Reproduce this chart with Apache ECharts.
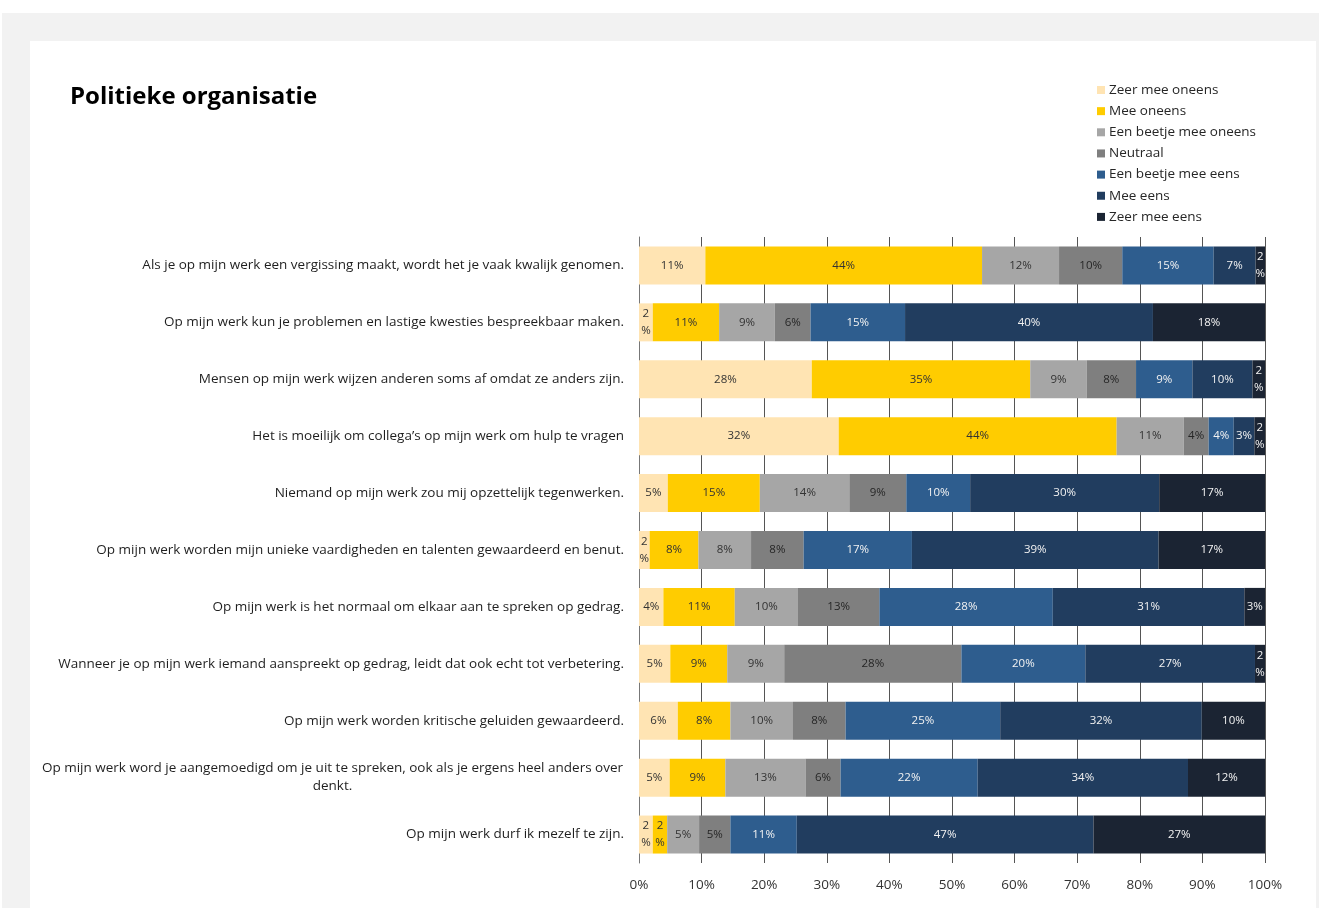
<!DOCTYPE html>
<html>
<head>
<meta charset="utf-8">
<script src="https://cdn.jsdelivr.net/npm/echarts@6/dist/echarts.min.js"></script>
<style>
  html, body { margin:0; padding:0; background:#ffffff; width:1319px; height:908px; overflow:hidden; }
  #outer { position:absolute; left:2px; top:13px; width:1317px; height:895px; background:#f2f2f2; }
  #card { position:absolute; left:30px; top:41px; width:1286px; height:867px; background:#ffffff; }
  #chart { position:absolute; left:0; top:0; width:1319px; height:908px; }
</style>
</head>
<body>
<div id="outer"></div>
<div id="card"></div>
<div id="chart"></div>
<script>
const title = 'Politieke organisatie';
const categories = [
  'Als je op mijn werk een vergissing maakt, wordt het je vaak kwalijk genomen.',
  'Op mijn werk kun je problemen en lastige kwesties bespreekbaar maken.',
  'Mensen op mijn werk wijzen anderen soms af omdat ze anders zijn.',
  'Het is moeilijk om collega’s op mijn werk om hulp te vragen',
  'Niemand op mijn werk zou mij opzettelijk tegenwerken.',
  'Op mijn werk worden mijn unieke vaardigheden en talenten gewaardeerd en benut.',
  'Op mijn werk is het normaal om elkaar aan te spreken op gedrag.',
  'Wanneer je op mijn werk iemand aanspreekt op gedrag, leidt dat ook echt tot verbetering.',
  'Op mijn werk worden kritische geluiden gewaardeerd.',
  'Op mijn werk word je aangemoedigd om je uit te spreken, ook als je ergens heel anders over denkt.',
  'Op mijn werk durf ik mezelf te zijn.'
];
const seriesNames = ['Zeer mee oneens','Mee oneens','Een beetje mee oneens','Neutraal','Een beetje mee eens','Mee eens','Zeer mee eens'];
const zeerMeeOneens     = [10.6, 2.2, 27.6, 31.9, 4.6, 1.7, 3.9, 5.0, 6.2, 4.9, 2.2];
const meeOneens         = [44.2, 10.6, 34.9, 44.4, 14.7, 7.8, 11.4, 9.1, 8.4, 8.9, 2.3];
const beetjeMeeOneens   = [12.3, 8.9, 9.0, 10.7, 14.3, 8.4, 10.1, 9.1, 10.0, 12.8, 5.1];
const neutraal          = [10.1, 5.7, 7.9, 4.0, 9.1, 8.4, 13.0, 28.3, 8.4, 5.6, 5.0];
const beetjeMeeEens     = [14.6, 15.1, 9.0, 4.0, 10.2, 17.3, 27.7, 19.8, 24.7, 21.9, 10.6];
const meeEens           = [6.7, 39.6, 9.6, 3.3, 30.2, 39.4, 30.6, 27.1, 32.2, 33.6, 47.4];
const zeerMeeEens       = [1.5, 17.9, 2.0, 1.7, 16.9, 17.0, 3.3, 1.6, 10.1, 12.3, 27.4];
const xTickLabels = ['0%','10%','20%','30%','40%','50%','60%','70%','80%','90%','100%'];

const seriesData = [zeerMeeOneens, meeOneens, beetjeMeeOneens, neutraal, beetjeMeeEens, meeEens, zeerMeeEens];
const colors = ['#FFE4B3','#FFCC00','#A6A6A6','#7F7F7F','#2E5D8E','#213D5F','#1B2433'];
const labelColors = ['#333333','#333333','#333333','#262626','#f2f2f2','#f2f2f2','#f2f2f2'];
const FONT = '"Open Sans", sans-serif';

function wrapLabel(s, maxChars) {
  if (s.length <= maxChars) return s;
  const words = s.split(' ');
  const lines = [];
  let cur = '';
  for (const w of words) {
    if ((cur + ' ' + w).trim().length > maxChars) { lines.push(cur); cur = w; }
    else cur = (cur ? cur + ' ' : '') + w;
  }
  if (cur) lines.push(cur);
  return lines.map(l => '{c|' + l + '}').join('\n');
}

const chart = echarts.init(document.getElementById('chart'), null, {renderer:'canvas'});
chart.setOption({
  backgroundColor: 'transparent',
  animation: false,
  textStyle: { fontFamily: FONT },
  title: {
    text: title, left: 70, top: 85, padding: 0,
    textStyle: { fontFamily: FONT, fontSize: 24, fontWeight: 'bold', color: '#000000' }
  },
  legend: {
    orient: 'vertical', left: 1092, top: 78,
    itemWidth: 8, itemHeight: 8, itemGap: 7.15,
    icon: 'rect',
    data: seriesNames,
    textStyle: { fontFamily: FONT, fontSize: 13.5, color: '#262626', padding: [0,0,0,-1], lineHeight: 14 }
  },
  grid: { left: 639, right: 54, top: 237, bottom: 45, containLabel: false },
  xAxis: {
    type: 'value', min: 0, max: 100, interval: 10,
    axisLabel: { formatter: v => xTickLabels[Math.round(v/10)], fontSize: 13.5, color: '#333333', margin: 15, fontFamily: FONT },
    axisLine: { show: false }, axisTick: { show: false },
    splitLine: { show: true, lineStyle: { color: '#555555', width: 1 } }
  },
  yAxis: {
    type: 'category', inverse: true, data: categories,
    axisLine: { show: true, lineStyle: { color: '#777777', width: 1 } },
    axisTick: { show: false },
    axisLabel: {
      fontSize: 13.5, color: '#1f1f1f', margin: 15, fontFamily: FONT, lineHeight: 18,
      formatter: s => wrapLabel(s, 90),
      rich: { c: { width: 583, align: 'center', fontSize: 13.5, color: '#1f1f1f', fontFamily: FONT, lineHeight: 18 } }
    }
  },
  series: seriesData.map((d, i) => ({
    name: seriesNames[i], type: 'bar', stack: 'total', data: d,
    barWidth: 38,
    itemStyle: { color: colors[i] },
    label: {
      show: true, position: 'inside', fontSize: 11.5, fontFamily: FONT, color: labelColors[i], lineHeight: 17,
      formatter: p => { const v = Math.round(p.value); return v < 3 ? v + '\n%' : v + '%'; }
    },
    emphasis: { disabled: true }
  }))
});
</script>
</body>
</html>
